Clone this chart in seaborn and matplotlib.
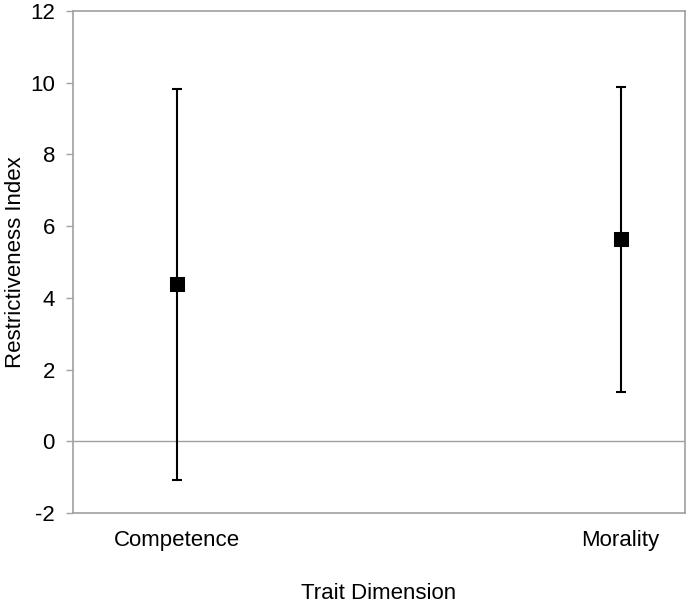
import matplotlib
matplotlib.use("Agg")
import matplotlib.pyplot as plt
import seaborn as sns
import numpy as np
import pandas as pd

categories = ["Competence", "Morality"]
means = [4.38, 5.63]
lower = [-1.08, 1.38]
upper = [9.82, 9.87]
yticks = [-2, 0, 2, 4, 6, 8, 10, 12]

sns.set_style("white")
plt.rcParams['font.family'] = ['Liberation Sans', 'DejaVu Sans']
plt.rcParams['text.color'] = 'black'
plt.rcParams['axes.labelcolor'] = 'black'
plt.rcParams['xtick.labelcolor'] = 'black'
plt.rcParams['ytick.labelcolor'] = 'black'

df = pd.DataFrame({"pos": np.arange(len(categories)), "cat": categories,
                   "mean": means, "lo": lower, "hi": upper})

fig = plt.figure(figsize=(7.0, 6.08), dpi=100)
ax = fig.add_axes([73/700, 1 - 513/608, 612/700, 502/608])

FS = 16
ax.axhline(0, color="#a0a0a0", lw=1.0, zorder=1)
ax.errorbar(df["pos"], df["mean"],
            yerr=[df["mean"] - df["lo"], df["hi"] - df["mean"]],
            fmt="none", ecolor="black", elinewidth=1.5, capsize=3.5, capthick=1.5, zorder=2)
sns.scatterplot(data=df, x="pos", y="mean", marker="s", s=90, color="black",
                edgecolor="black", ax=ax, zorder=3)

ax.set_xlim(-0.234, 1.145)
ax.set_ylim(-2, 12)
ax.set_yticks(yticks)
ax.set_yticklabels([str(t) for t in yticks], fontsize=FS)
ax.set_xticks(df["pos"])
ax.set_xticklabels(categories, fontsize=FS)
ax.tick_params(axis="x", length=0, pad=12, labelcolor="black")
ax.tick_params(axis="y", length=5, width=1, color="#a0a0a0", pad=8, left=True,
               labelcolor="black")
for sp in ax.spines.values():
    sp.set_color("#a0a0a0")
    sp.set_linewidth(1.2)

ax.set_xlabel("Trait Dimension", fontsize=FS, color="black")
ax.set_ylabel("Restrictiveness Index", fontsize=FS, color="black")
ax.xaxis.set_label_coords(0.5, -0.139)
ax.yaxis.set_label_coords(-0.077, 0.5)

fig.savefig("out.png", dpi=100)
